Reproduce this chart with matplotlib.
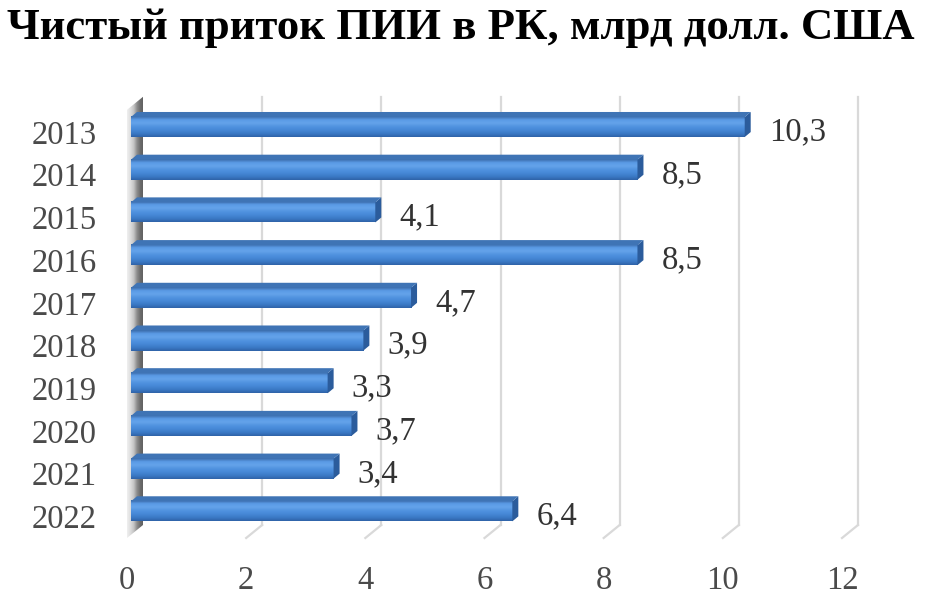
import matplotlib
matplotlib.use("Agg")
import matplotlib.pyplot as plt
import matplotlib.transforms as mtransforms
from matplotlib.patches import Polygon
from matplotlib.colors import LinearSegmentedColormap
import numpy as np

years = ["2013", "2014", "2015", "2016", "2017", "2018", "2019", "2020", "2021", "2022"]
values = [10.3, 8.5, 4.1, 8.5, 4.7, 3.9, 3.3, 3.7, 3.4, 6.4]
value_labels = ["10,3", "8,5", "4,1", "8,5", "4,7", "3,9", "3,3", "3,7", "3,4", "6,4"]
xticks = [0, 2, 4, 6, 8, 10, 12]
title = "Чистый приток ПИИ в РК, млрд долл. США"

W, H = 939, 600
fig = plt.figure(figsize=(W / 100, H / 100), dpi=100)
fig.patch.set_facecolor("white")

ax_left, ax_right, ax_top, ax_bottom = 127, 842, 97, 538
ax = fig.add_axes([ax_left / W, (H - ax_bottom) / H, (ax_right - ax_left) / W, (ax_bottom - ax_top) / H])
ax.set_xlim(0, 12)
ax.set_ylim(9.625, -0.703)
for s in ax.spines.values():
    s.set_visible(False)
ax.set_facecolor("none")

DX, DY = 16, 13  # depth of back wall in pixels
BAR_SHIFT = 4


def off(dx, dy):
    return ax.transData + mtransforms.ScaledTranslation(dx / 100, dy / 100, fig.dpi_scale_trans)


ymax_data = 9.625
ymin_data = -0.703
grid_color = "#d9d9d9"
inv = ax.transData.inverted()
for v in xticks[1:]:
    ax.plot([v, v], [ymax_data, ymin_data + 0.3], color=grid_color, lw=1.6,
            transform=off(DX, DY), clip_on=False, zorder=1)
    p0 = ax.transData.transform((v, ymax_data))
    p1 = p0 + np.array([DX, DY])
    q0 = inv.transform(p0)
    q1 = inv.transform(p1)
    ax.plot([q0[0], q1[0]], [q0[1], q1[1]], color=grid_color, lw=1.6, clip_on=False, zorder=1)

# left wall (gradient parallelogram)
f_bot = ax.transData.transform((0, ymax_data))
f_top = ax.transData.transform((0, ymin_data + 0.3))
wall_pts_px = np.array([
    f_bot,
    f_top,
    f_top + np.array([DX, DY]),
    f_bot + np.array([DX, DY]),
])
wall_pts = inv.transform(wall_pts_px)
wall = Polygon(wall_pts, closed=True, facecolor="none", edgecolor="none", zorder=2)
ax.add_patch(wall)
wall.set_clip_on(False)
wall_cmap = LinearSegmentedColormap.from_list(
    "w", ["#f0f0f0", "#dedede", "#c4c4c4", "#8c8c8c", "#6a6a6a", "#5e5e5e"])
grad = np.linspace(0, 1, 64).reshape(1, -1)
xmin_w, xmax_w = wall_pts[:, 0].min(), wall_pts[:, 0].max()
im = ax.imshow(grad, cmap=wall_cmap, extent=[xmin_w, xmax_w, ymax_data + 0.5, ymin_data - 0.5],
               aspect="auto", zorder=2)
im.set_clip_path(wall)
im.set_clip_box(fig.bbox)
ax.set_xlim(0, 12)
ax.set_ylim(9.625, -0.703)

# bars
ypos = np.arange(len(years))
bar_h = 0.47
bars = ax.barh(ypos, values, height=bar_h, color="#4a8ad6", edgecolor="none", zorder=4)
bar_cmap = LinearSegmentedColormap.from_list(
    "b", ["#3a6aa8", "#5a9be6", "#64a3ea", "#5193e0", "#4688d6", "#3b7ac6", "#2f63a8"])
vgrad = np.linspace(0, 1, 64).reshape(-1, 1)
BDX, BDY = 6, 5
shift = np.array([BAR_SHIFT, 0])
for i, (b, v) in enumerate(zip(bars, values)):
    b.set_transform(off(BAR_SHIFT, 0))
    b.set_clip_on(False)
    imb = ax.imshow(vgrad, cmap=bar_cmap, extent=[0, v, i + bar_h / 2, i - bar_h / 2],
                    aspect="auto", zorder=5)
    imb.set_transform(off(BAR_SHIFT, 0))
    imb.set_clip_path(b)
    imb.set_clip_box(fig.bbox)
    fr_top = ax.transData.transform((v, i - bar_h / 2)) + shift
    fr_bot = ax.transData.transform((v, i + bar_h / 2)) + shift
    side_px = np.array([fr_bot, fr_top, fr_top + [BDX, BDY], fr_bot + [BDX, BDY]])
    ax.add_patch(Polygon(inv.transform(side_px), closed=True, facecolor="#2b5c9c",
                         edgecolor="none", zorder=5, clip_on=False))
    fl_top = ax.transData.transform((0, i - bar_h / 2)) + shift
    top_px = np.array([fl_top, fr_top, fr_top + [BDX, BDY], fl_top + [BDX, BDY]])
    ax.add_patch(Polygon(inv.transform(top_px), closed=True, facecolor="#3f74b5",
                         edgecolor="none", zorder=5, clip_on=False))
    ax.text(v, i, value_labels[i], transform=off(28, -5), ha="left", va="center",
            fontsize=23.5, family="Liberation Serif", color="#333333", zorder=6)

ax.set_xlim(0, 12)
ax.set_ylim(9.625, -0.703)
ax.set_xticks(xticks)
ax.set_xticklabels([str(t) for t in xticks])
ax.set_yticks(ypos)
ax.set_yticklabels(years)
ax.tick_params(axis="both", length=0, labelsize=23.5, labelcolor="#4a4a4a")
ax.tick_params(axis="x", pad=20)
ax.tick_params(axis="y", pad=22)
for lab in ax.get_xticklabels() + ax.get_yticklabels():
    lab.set_fontfamily("Liberation Serif")
for lab in ax.get_yticklabels():
    lab.set_transform(lab.get_transform() + mtransforms.ScaledTranslation(0, -5 / 100, fig.dpi_scale_trans))

fig.text(7 / W, (H - 39) / H, title, ha="left", va="baseline", fontsize=32.2,
         fontweight="bold", family="Liberation Serif", color="black")

fig.savefig("out.png", dpi=100, facecolor="white")
